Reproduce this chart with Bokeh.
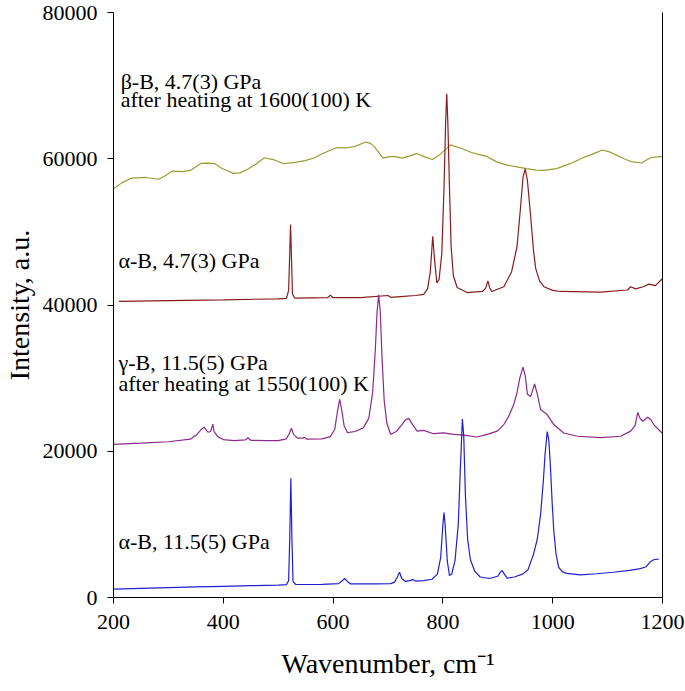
from bokeh.plotting import figure
from bokeh.models import LinearAxis, FixedTicker, Range1d, ColumnDataSource
from bokeh.core.properties import value
from bokeh.embed import file_html
from bokeh.resources import INLINE

# ---------------- data ----------------
blue_x = [200, 250, 300, 350, 400, 450, 500, 515, 519, 521, 523, 525, 527, 532, 580, 610, 617, 621, 626, 632,
          680, 705, 712, 717, 721, 725, 732, 740, 745, 750, 765, 780, 790, 796, 800, 802, 804, 808, 812, 816,
          822, 828, 832, 835.5, 838, 841, 845, 850, 858, 868, 885, 900, 905, 908, 911, 917, 930, 945, 955, 965,
          972, 978, 983, 986, 990, 993, 996, 999, 1002, 1006, 1011, 1018, 1026, 1050, 1080, 1110, 1140, 1160,
          1170, 1178, 1185, 1193]
blue_y = [1150, 1250, 1350, 1450, 1530, 1620, 1700, 1760, 2300, 8000, 16300, 8000, 2200, 1780, 1800, 1900, 2300, 2600, 2200, 1850,
          1850, 1900, 2100, 2800, 3450, 2600, 2200, 2300, 2450, 2250, 2300, 2500, 3200, 5500, 10000, 11600, 10000, 5000, 3000, 3200,
          5000, 10000, 18000, 24400, 22000, 14000, 8000, 5200, 3600, 2800, 2600, 2900, 3500, 3700, 3300, 2650, 2800, 3200, 3800, 5900,
          8000, 11400, 16000, 19500, 22700, 21500, 17700, 13000, 9100, 6000, 4100, 3500, 3300, 3100, 3250, 3450, 3700, 3950,
          4200, 4900, 5200, 5250]

purple_x = [200, 250, 300, 340, 352, 360, 365, 372, 377, 381, 383, 386, 390, 400, 420, 440, 445, 450, 480, 500,
            515, 520, 524, 528, 535, 545, 548, 552, 580, 595, 603, 608, 612, 616, 620, 626, 640, 655, 665, 672,
            677, 680, 683, 686, 689, 693, 698, 705, 715, 725, 732, 738, 745, 753, 765, 783, 801, 820, 838, 862,
            881, 899, 911, 920, 929, 935, 940, 946, 950, 954, 960, 967, 972, 978, 985, 990, 1002, 1020, 1045, 1087,
            1124, 1142, 1150, 1155, 1159, 1164, 1173, 1179, 1184, 1199]
purple_y = [20950, 21100, 21300, 21650, 22300, 23000, 23300, 22600, 22700, 23700, 22700, 22400, 22000, 21600, 21450, 21550, 21850, 21500, 21450, 21450,
            21700, 22400, 23150, 22300, 21800, 21800, 21900, 21650, 21700, 22000, 23000, 25500, 27100, 25500, 23500, 22550, 22700, 23200, 24500, 28000,
            34000, 39000, 41400, 39000, 33000, 27000, 23800, 22300, 22700, 23600, 24300, 24500, 23600, 22750, 22850, 22400, 22520, 22300, 22200, 21950,
            22300, 22750, 23650, 24800, 26400, 28000, 30000, 31500, 30300, 27800, 27500, 29200, 27800, 25700, 25300, 25000, 23650, 22500, 22050, 21850,
            22050, 22750, 23500, 25300, 24500, 24100, 24650, 24300, 23650, 22500]

red_x = [210, 300, 400, 500, 515, 519, 521, 522.5, 524, 526, 530, 590, 595, 600, 650, 700, 705, 723, 750, 765,
         772, 777, 781.5, 785, 789, 793, 798, 802, 805, 807, 809, 812, 815, 819, 826, 844, 872, 878, 882, 885,
         889, 911, 925, 935, 941, 946, 950, 954, 960, 965, 969, 976, 984, 1000, 1014, 1087, 1136, 1142, 1151, 1165,
         1175, 1187, 1199]
red_y = [40500, 40600, 40700, 40850, 40900, 42000, 47000, 51000, 47000, 41500, 40950, 41000, 41350, 41000, 41000, 41300, 41050, 41150, 41300, 41450,
         42200, 44500, 49400, 46000, 43000, 43500, 47000, 56000, 65000, 68900, 65000, 56000, 48000, 44000, 42400, 41700, 41850, 42300, 43300, 42400,
         41850, 42500, 44500, 48000, 53000, 57500, 58600, 57000, 52000, 47500, 45000, 43300, 42500, 42000, 41850, 41750, 42050, 42500, 42200, 42500,
         42850, 42650, 43550]

olive_x = [200, 215, 233, 259, 282, 295, 307, 325, 340, 359, 372, 385, 397, 407, 418, 430, 445, 459, 475, 491,
           510, 530, 549, 565, 581, 607, 625, 639, 659, 668, 675, 691, 700, 710, 726, 740, 752, 768, 781, 794,
           814, 833, 852, 865, 878, 897, 917, 935, 952, 970, 984, 1007, 1033, 1058, 1075, 1090, 1105, 1117, 1130, 1145,
           1162, 1178, 1190, 1200]
olive_y = [55900, 56700, 57360, 57440, 57200, 57700, 58310, 58250, 58400, 59360, 59400, 59320, 58700, 58400, 58000, 58070, 58600, 59260, 60140, 59890,
           59320, 59500, 59740, 60100, 60710, 61530, 61500, 61660, 62290, 62100, 61660, 60080, 60250, 60330, 60080, 60400, 60710, 60230, 59890, 60560,
           61900, 61430, 60850, 60600, 60370, 59610, 59130, 58900, 58650, 58450, 58400, 58650, 59360, 60230, 60700, 61200, 60900, 60460, 60000, 59560,
           59420, 60140, 60250, 60300]

x_ticks = [200, 400, 600, 800, 1000, 1200]
y_ticks = [0, 20000, 40000, 60000, 80000]

labels_text = ["\u03b2-B, 4.7(3) GPa", "after heating at 1600(100) K", "\u03b1-B, 4.7(3) GPa",
               "\u03b3-B, 11.5(5) GPa", "after heating at 1550(100) K", "\u03b1-B, 11.5(5) GPa"]
labels_x = [213, 213, 209, 209, 209, 209]
labels_y = [70630, 68170, 46020, 32200, 29330, 7590]

# ---------------- figure ----------------
FONT = "Liberation Serif"
p = figure(width=685, height=691, x_range=Range1d(200, 1200), y_range=Range1d(0, 80000),
           output_backend="svg", toolbar_location=None,
           min_border_left=113, min_border_right=23, min_border_top=12, min_border_bottom=94)
p.background_fill_color = "white"
p.border_fill_color = "white"
p.outline_line_color = None
p.grid.visible = False

p.line(olive_x, olive_y, line_color="#9b9b32", line_width=1.2)
p.line(red_x, red_y, line_color="#8b1a1a", line_width=1.2)
p.line(purple_x, purple_y, line_color="#8c2a8c", line_width=1.2)
p.line(blue_x, blue_y, line_color="#1f1fd4", line_width=1.2)

src = ColumnDataSource(dict(x=labels_x, y=labels_y, t=labels_text))
p.text(x="x", y="y", text="t", source=src, text_font=value(FONT), text_font_size="22px",
       text_color="black", text_baseline="alphabetic", text_align="left")

for ax in (p.xaxis[0], p.yaxis[0]):
    ax.axis_line_color = "black"
    ax.axis_line_width = 1
    ax.major_tick_line_color = "black"
    ax.major_tick_out = 6
    ax.major_tick_in = 0
    ax.minor_tick_line_color = None
    ax.major_label_text_font = FONT
    ax.major_label_text_font_size = "22px"
    ax.major_label_text_color = "black"
    ax.axis_label_text_font = FONT
    ax.axis_label_text_font_style = "normal"
    ax.axis_label_text_font_size = "28px"
    ax.axis_label_text_color = "black"

p.xaxis[0].ticker = FixedTicker(ticks=x_ticks)
p.yaxis[0].ticker = FixedTicker(ticks=y_ticks)
p.xaxis[0].axis_label = "Wavenumber, cm\u207b\u00b9"
p.yaxis[0].axis_label = "Intensity, a.u."
p.xaxis[0].major_label_standoff = 11
p.yaxis[0].major_label_standoff = 10
p.xaxis[0].axis_label_standoff = 16
p.yaxis[0].axis_label_standoff = 5

right = LinearAxis(ticker=FixedTicker(ticks=[]), axis_line_color="black", axis_line_width=1,
                   major_tick_line_color=None, minor_tick_line_color=None,
                   major_tick_out=0, major_tick_in=0, major_label_standoff=0,
                   axis_label_standoff=0, major_label_text_font_size="0px")
p.add_layout(right, "right")

open("out.html", "w").write(file_html(p, INLINE))
